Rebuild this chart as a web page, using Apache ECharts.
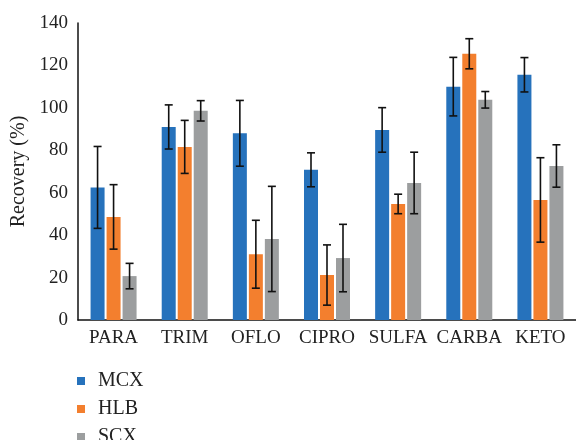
<!DOCTYPE html>
<html>
<head>
<meta charset="utf-8">
<script src="https://cdn.jsdelivr.net/npm/echarts@6/dist/echarts.min.js"></script>
<style>
  html, body { margin: 0; padding: 0; background: #fff; }
  #main { width: 576px; height: 440px; }
</style>
</head>
<body>
<div id="main"></div>
<script>
// 数据
var categories = ['PARA', 'TRIM', 'OFLO', 'CIPRO', 'SULFA', 'CARBA', 'KETO'];
var seriesNames = ['MCX', 'HLB', 'SCX'];
var mcx = [62.5, 91, 88, 70.8, 89.6, 110, 115.6];
var mcxErr = [19.3, 10.4, 15.5, 8, 10.5, 13.8, 8.1];
var hlb = [48.6, 81.6, 31, 21.2, 54.7, 125.5, 56.6];
var hlbErr = [15.2, 12.5, 16, 14.2, 4.6, 7.1, 19.9];
var scx = [20.7, 98.6, 38.2, 29.2, 64.6, 103.8, 72.6];
var scxErr = [6, 4.8, 24.8, 15.9, 14.5, 3.9, 10];
var yTicks = [0, 20, 40, 60, 80, 100, 120, 140];

var font = '"Liberation Serif", "DejaVu Serif", serif';
var colors = ['#2672bc', '#f37f2e', '#9c9e9f'];
var barW = 14;
var barGap = 2;

function errData(vals, errs) {
    return vals.map(function (v, i) { return [i, v - errs[i], v + errs[i]]; });
}

// 误差线
function errSeries(vals, errs, offset) {
    return {
        type: 'custom',
        data: errData(vals, errs),
        z: 10,
        renderItem: function (params, api) {
            var lo = api.coord([api.value(0), api.value(1)]);
            var hi = api.coord([api.value(0), api.value(2)]);
            var x = lo[0] + offset;
            var cap = 4;
            var style = { stroke: '#111', lineWidth: 1.6 };
            return {
                type: 'group',
                children: [
                    { type: 'line', shape: { x1: x, y1: lo[1], x2: x, y2: hi[1] }, style: style },
                    { type: 'line', shape: { x1: x - cap, y1: lo[1], x2: x + cap, y2: lo[1] }, style: style },
                    { type: 'line', shape: { x1: x - cap, y1: hi[1], x2: x + cap, y2: hi[1] }, style: style }
                ]
            };
        }
    };
}

// 图例，每项单独放
function legendItem(name, top) {
    return {
        data: [name],
        left: 72,
        top: top,
        icon: 'rect',
        itemWidth: 8,
        itemHeight: 8,
        textStyle: { fontFamily: font, fontSize: 20, color: '#222', padding: [0, 0, 0, 8] }
    };
}

var myChart = echarts.init(document.getElementById('main'));
var step = barW + barGap;

myChart.setOption({
    animation: false,
    color: colors,
    textStyle: { fontFamily: font },
    grid: { left: 78, right: -6, top: 23, bottom: 120 },
    legend: [
        legendItem(seriesNames[0], 366),
        legendItem(seriesNames[1], 394),
        legendItem(seriesNames[2], 422)
    ],
    xAxis: {
        type: 'category',
        data: categories,
        axisLine: { lineStyle: { color: '#111', width: 1.5 } },
        axisTick: { show: false },
        axisLabel: { interval: 0, fontFamily: font, fontSize: 19, color: '#222', margin: 9 }
    },
    yAxis: {
        type: 'value',
        min: yTicks[0],
        max: yTicks[yTicks.length - 1],
        interval: 20,
        name: 'Recovery (%)',
        nameLocation: 'middle',
        nameGap: 47,
        nameTextStyle: { fontFamily: font, fontSize: 20, color: '#222' },
        axisLine: { show: true, lineStyle: { color: '#111', width: 1.5 } },
        axisTick: { show: false },
        splitLine: { show: false },
        axisLabel: { fontFamily: font, fontSize: 19, color: '#222', margin: 10 }
    },
    series: [
        { name: seriesNames[0], type: 'bar', barWidth: barW, barGap: (barGap / barW * 100) + '%', data: mcx },
        { name: seriesNames[1], type: 'bar', barWidth: barW, data: hlb },
        { name: seriesNames[2], type: 'bar', barWidth: barW, data: scx },
        errSeries(mcx, mcxErr, -step),
        errSeries(hlb, hlbErr, 0),
        errSeries(scx, scxErr, step)
    ]
});
</script>
</body>
</html>
